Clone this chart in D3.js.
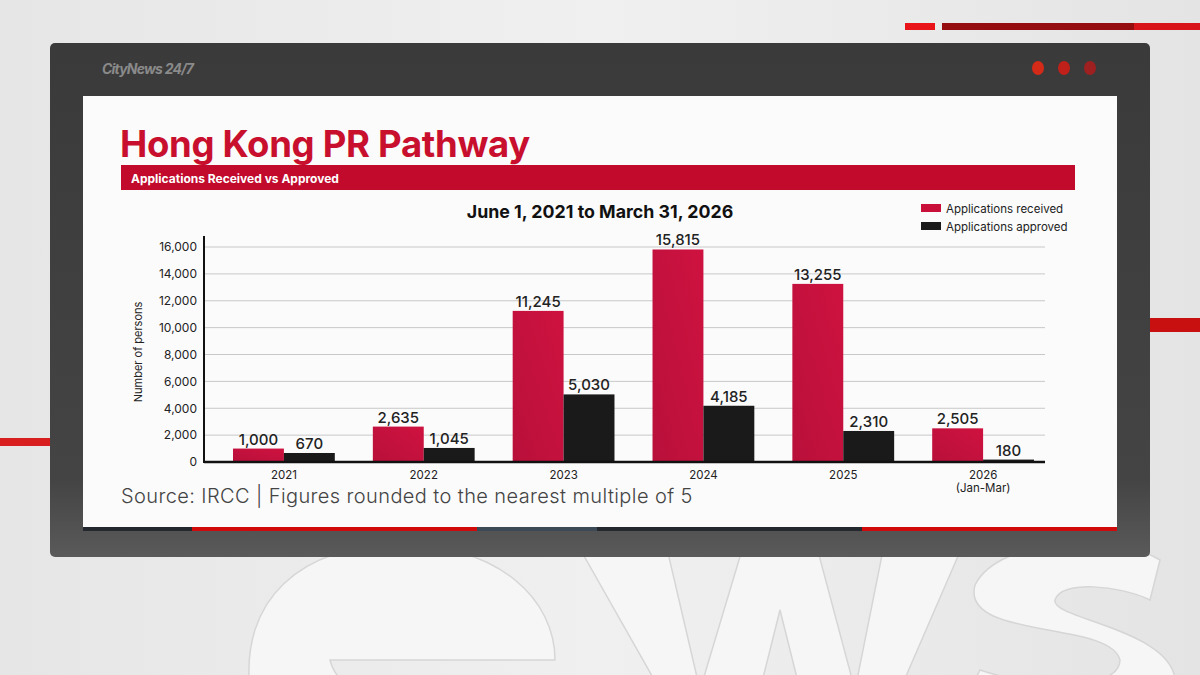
<!DOCTYPE html>
<html><head><meta charset="utf-8">
<script src="https://cdn.jsdelivr.net/npm/d3@7"></script>
<style>body{margin:0;background:#e9e9e9;}svg{display:block;}</style>
</head><body>
<svg id="c" width="1200" height="675"></svg>
<script>
const categories = ["2021","2022","2023","2024","2025","2026"];
const categorySub = ["","","","","","(Jan-Mar)"];
const received = [1000, 2635, 11245, 15815, 13255, 2505];
const approved = [670, 1045, 5030, 4185, 2310, 180];
const seriesNames = ["Applications received","Applications approved"];
const yTicks = [0,2000,4000,6000,8000,10000,12000,14000,16000];

const svg = d3.select("#c");
const F = "Inter, 'Noto Sans', sans-serif";
const defs = svg.append("defs");
const bg = defs.append("linearGradient").attr("id","bg").attr("x1",0).attr("x2",1).attr("y1",0).attr("y2",0);
bg.append("stop").attr("offset","0").attr("stop-color","#e6e6e6");
bg.append("stop").attr("offset","0.5").attr("stop-color","#f0f0f0");
bg.append("stop").attr("offset","1").attr("stop-color","#e4e4e4");
const fr = defs.append("linearGradient").attr("id","fr").attr("x1",0).attr("x2",0).attr("y1",0).attr("y2",1);
fr.append("stop").attr("offset","0").attr("stop-color","#3a3a3a");
fr.append("stop").attr("offset","0.85").attr("stop-color","#444");
fr.append("stop").attr("offset","1").attr("stop-color","#5a5a5a");
const rg = defs.append("linearGradient").attr("id","rg").attr("x1",0).attr("x2",1).attr("y1",1).attr("y2",0);
rg.append("stop").attr("offset","0").attr("stop-color","#b8103a");
rg.append("stop").attr("offset","1").attr("stop-color","#cf1240");

// background with faint embossed shapes
svg.append("rect").attr("width",1200).attr("height",675).attr("fill","url(#bg)");
const deco = svg.append("g").attr("fill","#f6f6f6").attr("stroke","#d6d6d6").attr("stroke-width",1.5);
deco.append("path").attr("d","M575,540 L665,540 L700,690 L745,540 L815,540 L855,690 L885,540 L965,540 L900,690 L800,690 L780,610 L760,690 L660,690 Z");
deco.append("path").attr("d","M250,690 C240,600 300,545 400,545 C500,545 555,600 555,660 L330,660 C335,680 350,690 380,690 Z");
deco.append("path").attr("d","M1160,560 C1120,535 1000,535 975,585 C960,640 1110,620 1120,660 C1120,690 1040,690 980,670 L970,690 L1175,690 C1185,630 1050,620 1055,600 C1060,580 1120,585 1150,600 Z");
svg.append("rect").attr("x",0).attr("y",438).attr("width",55).attr("height",8).attr("fill","#d81e1e");
svg.append("rect").attr("x",1145).attr("y",318).attr("width",55).attr("height",14).attr("fill","#c81010");

// top right bars
svg.append("rect").attr("x",905).attr("y",23).attr("width",30).attr("height",7).attr("fill","#e8141a");
svg.append("rect").attr("x",942).attr("y",23).attr("width",192).attr("height",7).attr("fill","#960d10");
svg.append("rect").attr("x",1134).attr("y",23).attr("width",66).attr("height",7).attr("fill","#d8141a");

// frame
svg.append("rect").attr("x",50).attr("y",43).attr("width",1100).attr("height",514).attr("rx",5).attr("fill","url(#fr)");
svg.append("text").attr("x",102).attr("y",74).attr("font-family",F).attr("font-weight","bold").attr("font-style","italic")
  .attr("font-size",14).attr("letter-spacing",-0.8).attr("fill","#8a8a8a").text("CityNews 24/7");
[["#d42a18",1038],["#c0201a",1064],["#9e2020",1090]].forEach(([c,x])=>{
  svg.append("ellipse").attr("cx",x).attr("cy",68).attr("rx",6).attr("ry",7).attr("fill",c);
});

// white panel
svg.append("rect").attr("x",83).attr("y",96).attr("width",1034).attr("height",435).attr("fill","#fbfbfb");
[[83,192,"#23272e"],[192,477,"#d00a0a"],[477,597,"#3c4a58"],[597,862,"#23272e"],[862,1117,"#d00a0a"]].forEach(([a,b,c])=>{
  svg.append("rect").attr("x",a).attr("y",527).attr("width",b-a).attr("height",4).attr("fill",c);
});

// titles
svg.append("text").attr("x",120).attr("y",157).attr("font-family",F).attr("font-weight","bold")
  .attr("font-size",36.5).attr("letter-spacing",-0.3).attr("fill","#c8102e").text("Hong Kong PR Pathway");
svg.append("rect").attr("x",121).attr("y",165).attr("width",954).attr("height",25).attr("fill","#c10a2c");
svg.append("text").attr("x",131).attr("y",183).attr("font-family",F).attr("font-weight","bold")
  .attr("font-size",12).attr("fill","#fff").text("Applications Received vs Approved");
svg.append("text").attr("x",600).attr("y",218).attr("text-anchor","middle").attr("font-family",F).attr("font-weight","bold")
  .attr("font-size",17.8).attr("fill","#111").text("June 1, 2021 to March 31, 2026");

// legend
const colors = ["url(#rg)","#1a1a1a"];
seriesNames.forEach((n,i)=>{
  svg.append("rect").attr("x",921).attr("y",204+i*18).attr("width",20).attr("height",8).attr("fill",i==0?"#c8103a":"#1a1a1a");
  svg.append("text").attr("x",946).attr("y",213+i*18).attr("font-family",F).attr("font-size",11.5).attr("fill","#222").text(n);
});

// scales
const x0 = 204, x1 = 1045, yb = 462, yt = 236;
const y = d3.scaleLinear().domain([0,16000]).range([yb,247]);
const xb = d3.scaleBand().domain(categories).range([233,1034]).paddingInner(0.272).paddingOuter(0);
const xs = d3.scaleBand().domain([0,1]).range([0,xb.bandwidth()]);

// grid
const g = svg.append("g");
g.selectAll("line.grid").data(yTicks.slice(1)).enter().append("line")
  .attr("x1",x0).attr("x2",x1).attr("y1",d=>y(d)).attr("y2",d=>y(d)).attr("stroke","#c8c8c8").attr("stroke-width",1);

// y axis
const ya = svg.append("g").attr("transform",`translate(${x0},0)`)
  .call(d3.axisLeft(y).tickValues(yTicks).tickSize(0).tickPadding(7).tickFormat(d3.format(",")));
ya.select(".domain").remove();
ya.selectAll("text").attr("font-family",F).attr("font-size",12).attr("fill","#222");
svg.append("line").attr("x1",x0).attr("x2",x0).attr("y1",yt).attr("y2",yb+1).attr("stroke","#111").attr("stroke-width",2);
svg.append("text").attr("transform",`translate(142,352) rotate(-90)`).attr("text-anchor","middle")
  .attr("font-family",F).attr("font-size",11).attr("fill","#222").text("Number of persons");

// bars
const data = categories.map((c,i)=>({c, v:[received[i],approved[i]]}));
const grp = svg.selectAll("g.grp").data(data).enter().append("g").attr("transform",d=>`translate(${xb(d.c)},0)`);
grp.selectAll("rect").data(d=>d.v).enter().append("rect")
  .attr("x",(d,i)=>xs(i)).attr("width",xs.bandwidth()).attr("y",d=>y(d)).attr("height",d=>yb-y(d))
  .attr("fill",(d,i)=>colors[i]);
grp.selectAll("text.val").data(d=>d.v).enter().append("text")
  .attr("x",(d,i)=>xs(i)+xs.bandwidth()/2).attr("y",d=>y(d)-4).attr("text-anchor","middle")
  .attr("font-family",F).attr("font-weight",500).attr("font-size",15).attr("fill","#222").text(d=>d3.format(",")(d));

// x axis
svg.append("line").attr("x1",x0).attr("x2",x1).attr("y1",yb).attr("y2",yb).attr("stroke","#111").attr("stroke-width",2.5);
const xa = svg.append("g").attr("transform",`translate(0,${yb})`).call(d3.axisBottom(xb).tickSize(0).tickPadding(9));
xa.select(".domain").remove();
xa.selectAll("text").attr("font-family",F).attr("font-size",11.5).attr("fill","#222");
xa.selectAll(".tick text").each(function(d){
  const i = categories.indexOf(d);
  if (categorySub[i]) {
    const t = d3.select(this);
    t.text(null);
    t.append("tspan").attr("x",0).text(d);
    t.append("tspan").attr("x",0).attr("dy","1.15em").text(categorySub[i]);
  }
});

// source
svg.append("text").attr("x",121).attr("y",503).attr("font-family",F).attr("font-weight",300).attr("font-size",20)
  .attr("letter-spacing",0.4).attr("fill","#444").text("Source: IRCC | Figures rounded to the nearest multiple of 5");
</script>
</body></html>
